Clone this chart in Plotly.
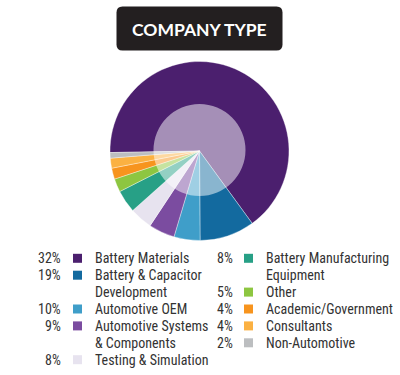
import plotly.graph_objects as go

W, H = 400, 375

# Categories, legend shares (as printed) and slice sizes as drawn in the pie
categories = ["Battery Materials", "Battery & Capacitor Development", "Automotive OEM",
              "Automotive Systems & Components", "Testing & Simulation",
              "Battery Manufacturing Equipment", "Other", "Academic/Government",
              "Consultants", "Non-Automotive"]
share_labels = ["32%", "19%", "10%", "9%", "8%", "8%", "5%", "4%", "4%", "2%"]
slice_values = [65.2, 9.9, 4.7, 4.7, 4.1, 4.1, 2.4, 2.0, 1.8, 1.0]
colors = ["#4b1f6e", "#136a9f", "#3f9ec9", "#7b4ca0", "#e7e3ef",
          "#27a086", "#8dc641", "#f7941e", "#fbb142", "#bcbec0"]
legend_lines = [["Battery Materials"], ["Battery & Capacitor", "Development"], ["Automotive OEM"],
                ["Automotive Systems", "& Components"], ["Testing & Simulation"],
                ["Battery Manufacturing", "Equipment"], ["Other"], ["Academic/Government"],
                ["Consultants"], ["Non-Automotive"]]
title_text = "COMPANY TYPE"


def px(x):
    return x / W


def py(y):
    return 1 - y / H


cx, cy, r = 199.5, 151.0, 89.5

fig = go.Figure()
fig.add_trace(go.Pie(
    labels=categories, values=slice_values, sort=False, direction="clockwise",
    rotation=269, textinfo="none", hoverinfo="label",
    marker=dict(colors=colors, line=dict(color="rgba(255,255,255,0.6)", width=0.6)),
    domain=dict(x=[px(cx - r), px(cx + r)], y=[py(cy + r), py(cy - r)]),
    showlegend=False,
))

shapes = []
# light inner disc overlay
icx, icy, ir = 199.5, 150.0, 46.0
shapes.append(dict(type="circle", xref="paper", yref="paper",
                   x0=px(icx - ir), x1=px(icx + ir), y0=py(icy + ir), y1=py(icy - ir),
                   fillcolor="rgba(255,255,255,0.5)", line=dict(width=0), layer="above"))

# rounded title box
x0, x1, y0, y1, rr = 116.5, 282.5, 6.5, 50.5, 6
path = (f"M {px(x0+rr)},{py(y0)} L {px(x1-rr)},{py(y0)} Q {px(x1)},{py(y0)} {px(x1)},{py(y0+rr)} "
        f"L {px(x1)},{py(y1-rr)} Q {px(x1)},{py(y1)} {px(x1-rr)},{py(y1)} "
        f"L {px(x0+rr)},{py(y1)} Q {px(x0)},{py(y1)} {px(x0)},{py(y1-rr)} "
        f"L {px(x0)},{py(y0+rr)} Q {px(x0)},{py(y0)} {px(x0+rr)},{py(y0)} Z")
shapes.append(dict(type="path", xref="paper", yref="paper", path=path,
                   fillcolor="#231f20", line=dict(width=0)))

annotations = [dict(text=f"<b>{title_text}</b>", x=px(199.5), y=py(29.5), xref="paper", yref="paper",
                    showarrow=False, xanchor="center", yanchor="middle",
                    font=dict(family="Lato, Inter, DejaVu Sans", size=17.5, color="white"))]

font_fam = "Roboto Condensed, Liberation Sans Narrow, DejaVu Sans Condensed, Roboto"
cols = [dict(pct_r=63, sq=73, txt=92.5, items=range(0, 5)),
        dict(pct_r=235, sq=244, txt=264, items=range(5, 10))]
row0, step = 258.3, 16.9
for col in cols:
    row = 0
    for i in col["items"]:
        yc = row0 + row * step
        annotations.append(dict(text=share_labels[i], x=px(col["pct_r"]), y=py(yc), xref="paper",
                                yref="paper", showarrow=False, xanchor="right", yanchor="middle",
                                font=dict(family=font_fam, size=14, color="#333333")))
        shapes.append(dict(type="rect", xref="paper", yref="paper",
                           x0=px(col["sq"]), x1=px(col["sq"] + 9), y0=py(yc + 4.5), y1=py(yc - 4.5),
                           fillcolor=colors[i], line=dict(width=0)))
        for line in legend_lines[i]:
            annotations.append(dict(text=line, x=px(col["txt"]), y=py(row0 + row * step), xref="paper",
                                    yref="paper", showarrow=False, xanchor="left", yanchor="middle",
                                    font=dict(family=font_fam, size=14, color="#333333")))
            row += 1

fig.update_layout(width=W, height=H, margin=dict(l=0, r=0, t=0, b=0),
                  paper_bgcolor="white", plot_bgcolor="white",
                  shapes=shapes, annotations=annotations)
fig.write_html("out.html", config={"displayModeBar": False},
               post_script="document.body.style.margin='0';document.body.style.padding='0';"
                           "document.body.style.overflow='hidden';")
